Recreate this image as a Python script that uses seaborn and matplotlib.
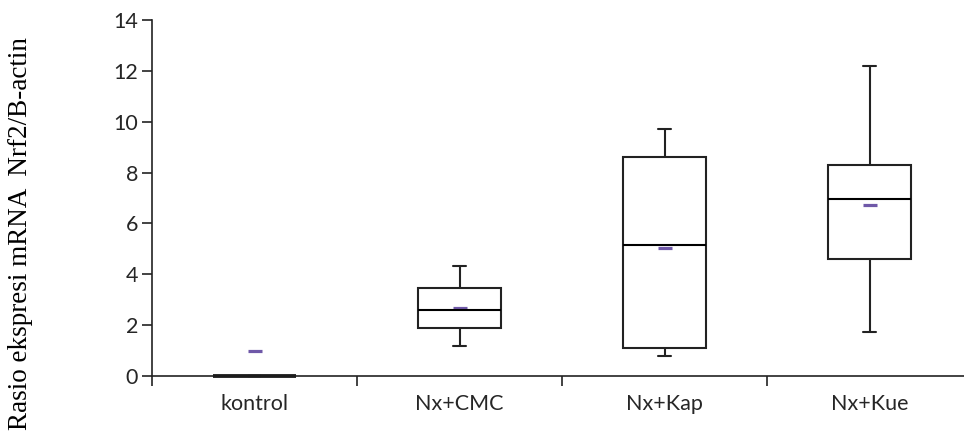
import numpy as np
import pandas as pd
import matplotlib
matplotlib.use("Agg")
import matplotlib.pyplot as plt
import seaborn as sns

categories = ["kontrol", "Nx+CMC", "Nx+Kap", "Nx+Kue"]
# five-number summaries: min, q1, median, q3, max
whisker_low = [0.0, 1.18, 0.79, 1.73]
q1 = [0.0, 1.89, 1.10, 4.60]
medians = [0.0, 2.60, 5.15, 6.96]
q3 = [0.0, 3.46, 8.61, 8.30]
whisker_high = [0.0, 4.33, 9.71, 12.20]
means = [1.00, 2.67, 5.03, 6.72]
y_ticks = [0, 2, 4, 6, 8, 10, 12, 14]

rows = []
for i, c in enumerate(categories):
    for v in (whisker_low[i], q1[i], medians[i], q3[i], whisker_high[i]):
        rows.append({"group": c, "value": v})
df = pd.DataFrame(rows)
mean_df = pd.DataFrame({"group": categories, "mean": means})

sns.set_style("ticks")
tick_font = ["Lato", "Open Sans", "DejaVu Sans"]

fig = plt.figure(figsize=(9.64, 4.32), dpi=100)
ax = fig.add_axes([152 / 964, (432 - 376) / 432, 1 - 152 / 964, 356 / 432])

edge = "#222222"
lw = 1.5
sns.boxplot(data=df, x="group", y="value", order=categories, ax=ax,
            whis=(0, 100), width=0.405, color="white", linecolor=edge,
            linewidth=lw, fliersize=0, capwidths=0.065,
            medianprops={"color": "black", "linewidth": lw})
for art in ax.patches + ax.lines:
    art.set_clip_on(False)
# the flat (all-zero) box collapses onto the axis; make its median read as a bold bar
for ln in ax.lines:
    yd = np.asarray(ln.get_ydata(), dtype=float)
    xd = np.asarray(ln.get_xdata(), dtype=float)
    if yd.size and np.allclose(yd, 0) and xd.size > 1 and np.ptp(xd) > 0.3:
        ln.set_linewidth(2.6)
        ln.set_color("black")
sns.pointplot(data=mean_df, x="group", y="mean", order=categories, ax=ax,
              color="#6f58a8", markers="_", linestyles="none", errorbar=None,
              markersize=10, markeredgewidth=2.3)

ax.set_xlim(-0.5, 3.46)
ax.set_ylim(0, 14)
ax.set_yticks(y_ticks)
ax.set_xticks(range(len(categories)))
ax.set_xticklabels(categories)
ax.set_xticks([-0.5, 0.5, 1.5, 2.5], minor=True)
ax.tick_params(axis="x", which="major", length=0, pad=13, labelsize=15.5)
ax.tick_params(axis="x", which="minor", length=7, width=1.2, color=edge)
ax.tick_params(axis="y", length=7, width=1.2, color=edge, labelsize=15.5, pad=3)
for lab in ax.get_xticklabels() + ax.get_yticklabels():
    lab.set_family(tick_font)
    lab.set_color("#262626")
for s in ["top", "right"]:
    ax.spines[s].set_visible(False)
for s in ["left", "bottom"]:
    ax.spines[s].set_linewidth(1.2)
    ax.spines[s].set_color(edge)
ax.spines["left"].set_bounds(0, 14)
ax.set_xlabel("")
ax.set_ylabel("Rasio ekspresi mRNA  Nrf2/B-actin", family="Liberation Serif",
              fontsize=19.5, color="black")
ax.yaxis.set_label_coords(-0.147, 0.40)

fig.savefig("out.png", dpi=100)
